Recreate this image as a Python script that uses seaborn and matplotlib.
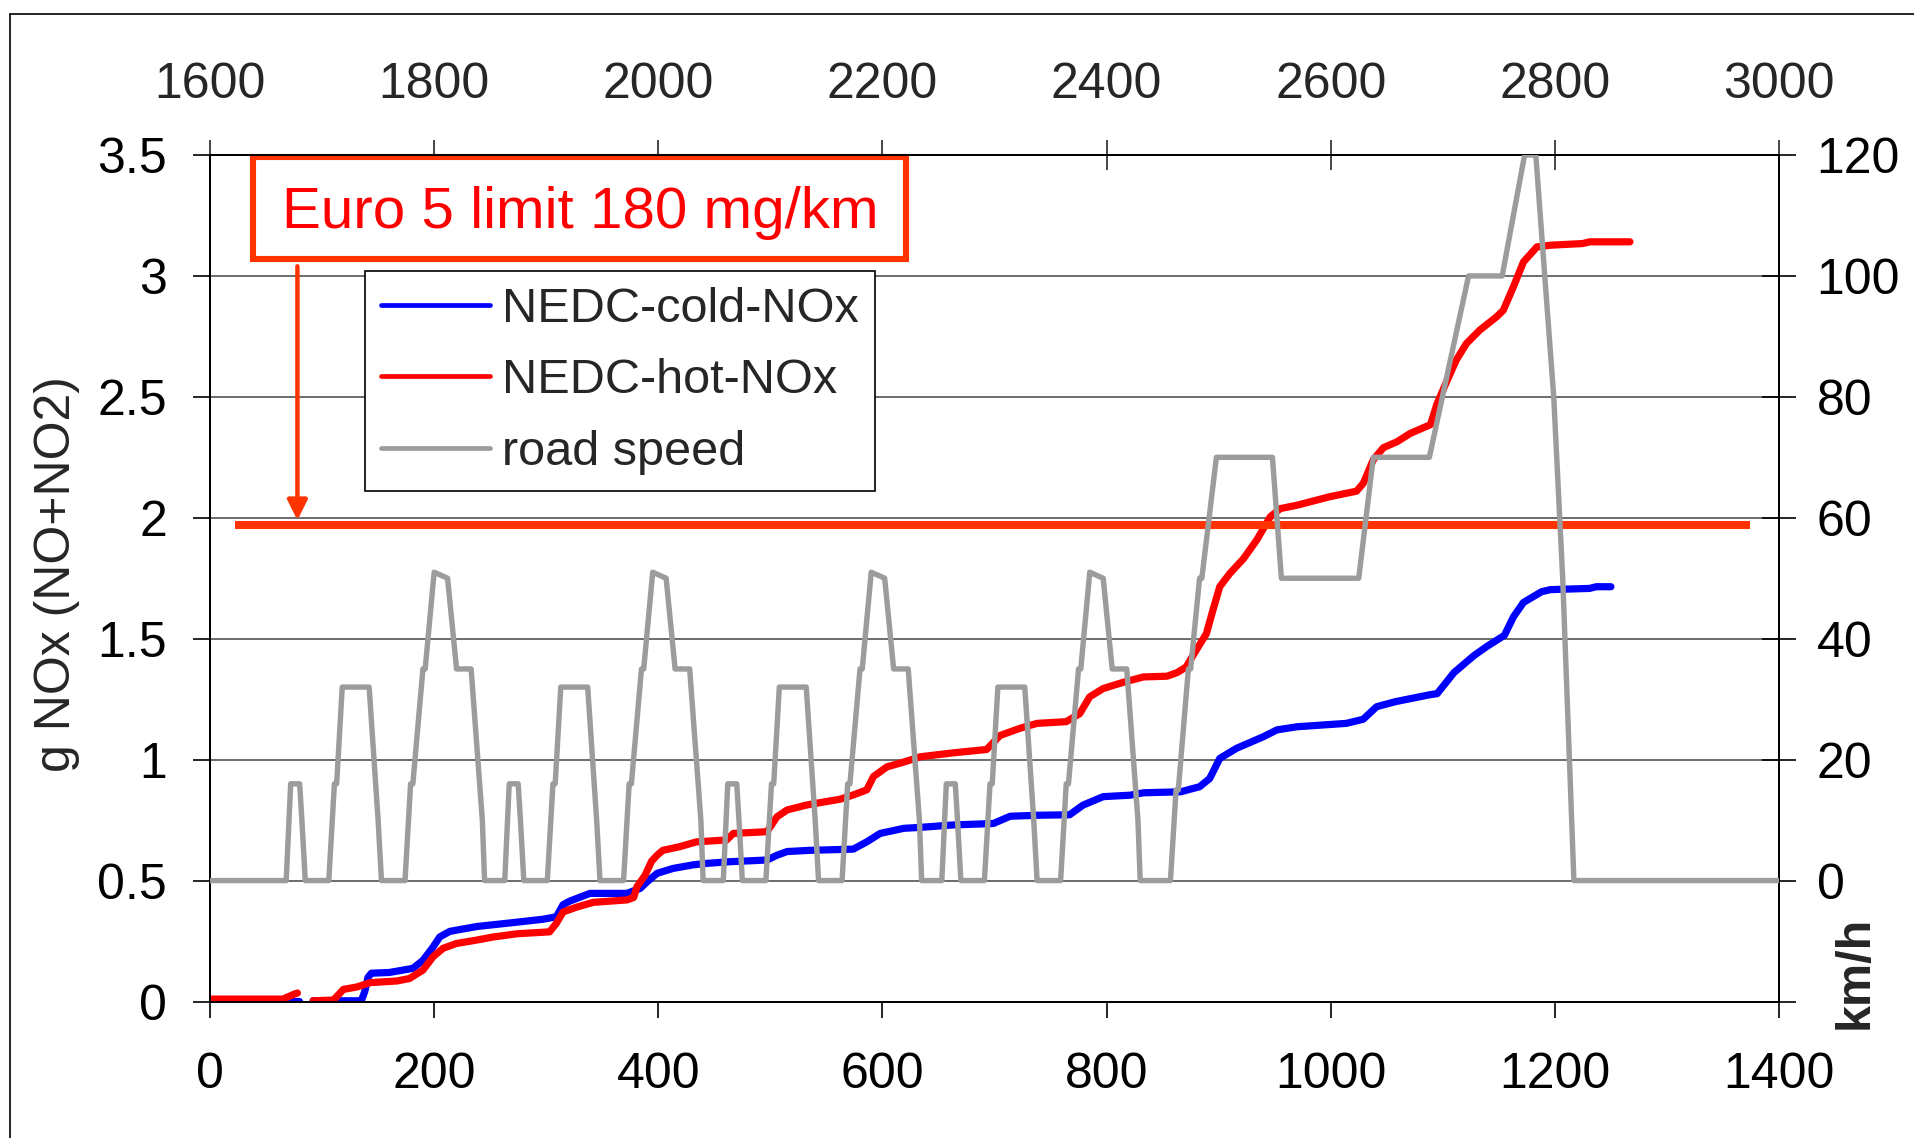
import numpy as np
import pandas as pd
import matplotlib
matplotlib.use("Agg")
import matplotlib.pyplot as plt
from matplotlib.lines import Line2D
from matplotlib.patches import Rectangle
import seaborn as sns

# ---------------- data ----------------
# road speed (km/h) breakpoints over time (s)
speed_t = [0, 57, 68, 72, 80, 82, 85, 106, 111, 113, 118, 142, 150, 153, 174, 179, 181, 190, 192, 200, 212, 220, 233, 243, 245,
           252, 263, 267, 275, 277, 280, 301, 306, 308, 313, 337, 345, 348, 369, 374, 376, 385, 387, 395, 407, 415, 428, 438, 440,
           447, 458, 462, 470, 472, 475, 496, 501, 503, 508, 532, 540, 543, 564, 569, 571, 580, 582, 590, 602, 610, 623, 633, 635,
           642, 653, 657, 665, 667, 670, 691, 696, 698, 703, 727, 735, 738, 759, 764, 766, 775, 777, 785, 797, 805, 818, 828, 830,
           837, 857, 862, 864, 873, 875, 883, 885, 898, 948, 956, 1025, 1038, 1088, 1123, 1153, 1173, 1183, 1199, 1207, 1217, 1400]
speed_v = [0, 0, 0, 16, 16, 10, 0, 0, 16, 16, 32, 32, 10, 0, 0, 16, 16, 35, 35, 51, 50, 35, 35, 10, 0,
           0, 0, 16, 16, 10, 0, 0, 16, 16, 32, 32, 10, 0, 0, 16, 16, 35, 35, 51, 50, 35, 35, 10, 0,
           0, 0, 16, 16, 10, 0, 0, 16, 16, 32, 32, 10, 0, 0, 16, 16, 35, 35, 51, 50, 35, 35, 10, 0,
           0, 0, 16, 16, 10, 0, 0, 16, 16, 32, 32, 10, 0, 0, 16, 16, 35, 35, 51, 50, 35, 35, 10, 0,
           0, 0, 15, 15, 35, 35, 50, 50, 70, 70, 50, 50, 70, 70, 100, 100, 120, 120, 80, 50, 0, 0]

# cumulative NOx, cold start (g)
cold_t = [0, 79, np.nan, 92, 135, 138, 141, 144, 160, 181, 190, 199, 205, 214, 238, 268, 297, 309, 315, 321, 339, 372, 384, 390,
          399, 413, 431, 443, 464, 497, 506, 515, 535, 574, 586, 598, 619, 634, 663, 699, 714, 738, 767, 779, 797, 821,
          833, 866, 883, 892, 901, 916, 940, 952, 970, 1014, 1029, 1041, 1058, 1088, 1095, 1110, 1128, 1140, 1155, 1163,
          1172, 1188, 1196, 1231, 1237, 1250]
cold_g = [0.003, 0.003, np.nan, 0.003, 0.003, 0.04, 0.10, 0.117, 0.12, 0.137, 0.17, 0.225, 0.267, 0.29, 0.31, 0.325, 0.34, 0.35,
          0.40, 0.415, 0.447, 0.447, 0.468, 0.495, 0.53, 0.55, 0.565, 0.571, 0.578, 0.585, 0.605, 0.62, 0.625, 0.63, 0.66,
          0.695, 0.716, 0.72, 0.73, 0.736, 0.766, 0.77, 0.772, 0.812, 0.847, 0.853, 0.863, 0.867, 0.888, 0.922, 1.005,
          1.047, 1.095, 1.123, 1.136, 1.15, 1.167, 1.219, 1.24, 1.268, 1.273, 1.36, 1.431, 1.47, 1.514, 1.59, 1.65, 1.694,
          1.703, 1.708, 1.715, 1.715]

# cumulative NOx, hot start (g)
hot_t = [0, 65, 70, 75, 78, np.nan, 92, 110, 113, 119, 131, 143, 167, 178, 190, 199, 208, 220, 238, 253, 274, 303, 309, 315,
         327, 342, 372, 378, 381, 388, 394, 399, 404, 419, 434, 461, 467, 497, 506, 515, 532, 544, 562, 574, 586, 592, 604,
         619, 634, 663, 693, 705, 723, 738, 764, 776, 785, 797, 815, 833, 854, 863, 871, 880, 889, 895, 901, 910, 922,
         934, 946, 955, 970, 999, 1023, 1029, 1038, 1047, 1059, 1071, 1089, 1095, 1104, 1112, 1121, 1133, 1148, 1154, 1163,
         1172, 1184, 1196, 1225, 1231, 1267]
hot_g = [0.01, 0.01, 0.02, 0.03, 0.035, np.nan, 0.003, 0.006, 0.02, 0.05, 0.06, 0.078, 0.085, 0.095, 0.13, 0.185, 0.22, 0.24,
         0.254, 0.267, 0.28, 0.288, 0.323, 0.37, 0.39, 0.41, 0.42, 0.43, 0.475, 0.52, 0.58, 0.605, 0.625, 0.64, 0.66, 0.668,
         0.695, 0.702, 0.764, 0.792, 0.812, 0.822, 0.836, 0.854, 0.875, 0.93, 0.97, 0.99, 1.012, 1.028, 1.042, 1.10, 1.13,
         1.15, 1.157, 1.19, 1.26, 1.294, 1.32, 1.342, 1.345, 1.36, 1.383, 1.453, 1.52, 1.62, 1.715, 1.77, 1.83, 1.908,
         2.004, 2.038, 2.052, 2.087, 2.11, 2.142, 2.24, 2.29, 2.314, 2.349, 2.385, 2.473, 2.569, 2.652, 2.72, 2.776, 2.831,
         2.858, 2.955, 3.058, 3.12, 3.127, 3.134, 3.141, 3.141]

limit_g = 1.97
limit_t = [22, 1374]

x_ticks = [0, 200, 400, 600, 800, 1000, 1200, 1400]
top_ticks = [1600, 1800, 2000, 2200, 2400, 2600, 2800, 3000]
y_ticks = [0, 0.5, 1, 1.5, 2, 2.5, 3, 3.5]
y_labels = ["0", "0.5", "1", "1.5", "2", "2.5", "3", "3.5"]
kmh_ticks = [-20, 0, 20, 40, 60, 80, 100, 120]
kmh_labels = ["", "0", "20", "40", "60", "80", "100", "120"]

labels = ["NEDC-cold-NOx", "NEDC-hot-NOx", "road speed"]
box_text = "Euro 5 limit 180 mg/km"
ylabel = "g NOx (NO+NO2)"

# ---------------- style ----------------
sns.set_style("white")
plt.rcParams["font.family"] = ["Liberation Sans", "DejaVu Sans"]

W, H = 1914, 1138
fig = plt.figure(figsize=(W / 100, H / 100), dpi=100)
fig.patch.set_facecolor("white")

L, R, T, B = 210, 1779, 155, 1001.5
ax = fig.add_axes([L / W, 1 - B / H, (R - L) / W, (B - T) / H])

BLUE = "#0000FF"
RED = "#FF0000"
ORANGE = "#FF3300"
GRAY = "#9c9c9c"
TICKFS = 36


def segments(t, g):
    t = np.asarray(t, float)
    g = np.asarray(g, float)
    cuts = np.where(np.isnan(t))[0]
    start = 0
    out = []
    for c in list(cuts) + [len(t)]:
        out.append(pd.DataFrame({"t": t[start:c], "g": g[start:c]}))
        start = c + 1
    return out


for df in segments(cold_t, cold_g):
    sns.lineplot(data=df, x="t", y="g", ax=ax, color=BLUE, lw=5.2, sort=False,
                 estimator=None, legend=False, zorder=3, solid_capstyle="round")
for df in segments(hot_t, hot_g):
    sns.lineplot(data=df, x="t", y="g", ax=ax, color=RED, lw=5.2, sort=False,
                 estimator=None, legend=False, zorder=4, solid_capstyle="round")

ax.plot(limit_t, [limit_g, limit_g], color=ORANGE, lw=5.8, zorder=5, solid_capstyle="butt")

ax.set_xlim(0, 1400)
ax.set_ylim(0, 3.5)
ax.set_xticks(x_ticks)
ax.set_xticklabels([str(v) for v in x_ticks])
ax.set_yticks(y_ticks)
ax.set_yticklabels(y_labels)
ax.set_xlabel("")
ax.set_ylabel("")
ax.yaxis.grid(True, color="#606060", lw=1.3)
ax.xaxis.grid(False)
ax.set_axisbelow(True)
ax.tick_params(axis="x", which="both", bottom=True, top=False, direction="out", length=11.5,
               width=1.2, pad=25, labelsize=TICKFS, colors="black")
ax.tick_params(axis="y", which="both", left=True, right=False, direction="out", length=12,
               width=1.2, pad=19, labelsize=TICKFS, colors="black")
for s in ax.spines.values():
    s.set_visible(True)
    s.set_color("black")
    s.set_linewidth(1.4)

# top secondary axis
sec = ax.secondary_xaxis("top", functions=(lambda x: x + 1600, lambda x: x - 1600))
sec.set_xticks(top_ticks)
sec.set_xticklabels([str(v) for v in top_ticks])
sec.tick_params(direction="inout", length=22, width=1.2, pad=23, labelsize=TICKFS)
sec.spines["top"].set_color("black")
sec.spines["top"].set_linewidth(1.4)

# speed axis
ax2 = ax.twinx()
sdf = pd.DataFrame({"t": speed_t, "v": speed_v})
sns.lineplot(data=sdf, x="t", y="v", ax=ax2, color=GRAY, lw=3.9, sort=False,
             estimator=None, legend=False, zorder=6)
ax2.set_ylim(-20, 120)
ax2.set_yticks(kmh_ticks)
ax2.set_yticklabels(kmh_labels)
ax2.set_ylabel("")
ax2.set_xlabel("")
ax2.tick_params(axis="y", direction="inout", length=24, width=1.2, pad=15, labelsize=TICKFS, colors="black")
ax2.grid(False)
for s in ax2.spines.values():
    s.set_color("black")
    s.set_linewidth(1.4)

# Euro 5 box and arrow
box = Rectangle((38.4, 3.07), 621 - 38.4, 3.49 - 3.07, fill=True, facecolor="white",
                edgecolor=ORANGE, lw=4.4, zorder=7, clip_on=False)
ax.add_patch(box)
ax.text(330, 3.26, box_text, color=RED, fontsize=42, ha="center", va="center", zorder=8)
ax.annotate("", xy=(78, 1.99), xytext=(78, 3.04),
            arrowprops=dict(arrowstyle="-|>", color=ORANGE, lw=3.2, mutation_scale=30,
                            shrinkA=0, shrinkB=0), zorder=8)

# legend
handles = [Line2D([], [], color=BLUE, lw=3.4),
           Line2D([], [], color=RED, lw=3.4),
           Line2D([], [], color=GRAY, lw=3.4)]
leg = ax2.legend(handles, labels, loc="upper left", bbox_to_anchor=((365 - L) / (R - L), (B - 271) / (B - T)),
                 borderaxespad=0, fontsize=35, frameon=True, fancybox=False, shadow=False,
                 handlelength=2.25, handletextpad=0.25, labelspacing=0.55, borderpad=0.32)
leg.get_frame().set_edgecolor("black")
leg.get_frame().set_linewidth(1.2)
leg.get_frame().set_alpha(1)
leg.set_zorder(20)

# axis labels
fig.text(57 / W, 1 - 574 / H, ylabel, rotation=90, ha="center", va="center", fontsize=36)
fig.text(1855 / W, 1 - 972 / H, "km/h", rotation=90, ha="center", va="center", fontsize=35,
         fontweight="bold")

# outer frame lines
fig.add_artist(Line2D([10 / W, 10 / W], [0, 1 - 14 / H], color="black", lw=1.2, transform=fig.transFigure))
fig.add_artist(Line2D([10 / W, 1], [1 - 14 / H, 1 - 14 / H], color="black", lw=1.2, transform=fig.transFigure))

fig.savefig("out.png", dpi=100, facecolor="white")
